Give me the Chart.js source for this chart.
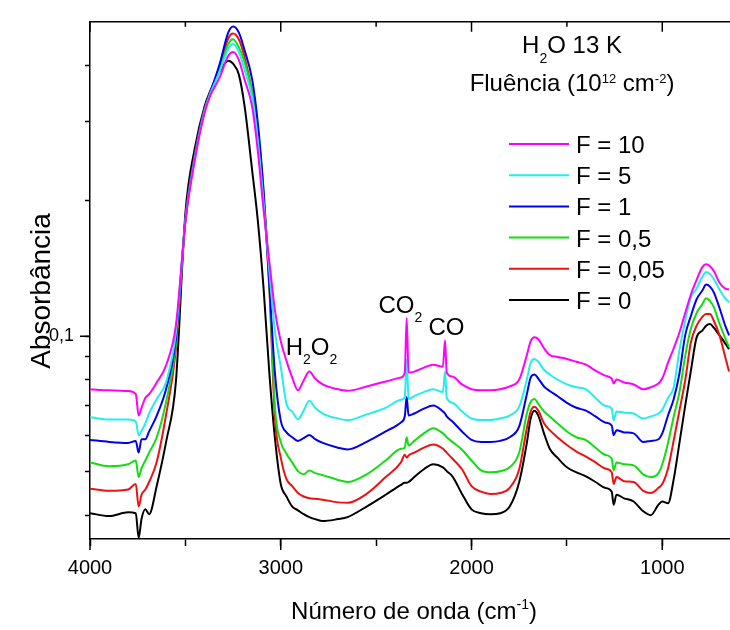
<!DOCTYPE html>
<html>
<head>
<meta charset="utf-8">
<script src="https://cdn.jsdelivr.net/npm/chart.js@4.4.0/dist/chart.umd.min.js"></script>
<style>
  html, body { margin: 0; padding: 0; background: #fff; }
  #wrap { width: 730px; height: 630px; }
</style>
</head>
<body>
<div id="wrap"><canvas id="spectra" width="730" height="630"></canvas></div>
<script>
// wave numbers (cm-1), shared by every spectrum
const waveNumbers = [
  4000, 3900, 3800, 3760, 3745, 3730, 3710, 3690, 3650, 3600,
  3550, 3500, 3450, 3400, 3370, 3320, 3275, 3250, 3220, 3190,
  3150, 3120, 3090, 3060, 3030, 3000, 2970, 2940, 2910, 2880,
  2850, 2820, 2780, 2700, 2650, 2550, 2450, 2370, 2350, 2340,
  2330, 2300, 2250, 2200, 2150, 2139, 2130, 2100, 2050, 2000,
  1950, 1900, 1850, 1800, 1750, 1710, 1690, 1670, 1650, 1620,
  1590, 1550, 1500, 1450, 1400, 1350, 1300, 1265, 1255, 1240,
  1200, 1150, 1100, 1060, 1020, 1000, 970, 940, 910, 880,
  850, 820, 790, 770, 750, 730, 700, 670, 650
];

// absorbance, one array per fluence
const absF10 = [
  0.0762, 0.0758, 0.0755, 0.0743, 0.0666, 0.0693, 0.0729, 0.0743, 0.0789, 0.0864,
  0.1055, 0.1793, 0.2471, 0.3127, 0.3421, 0.3762, 0.4200, 0.4285, 0.4116, 0.3724,
  0.3238, 0.2572, 0.1904, 0.1467, 0.1137, 0.0974, 0.0881, 0.0809, 0.0758, 0.0797,
  0.0834, 0.0805, 0.0781, 0.0762, 0.0756, 0.0773, 0.0793, 0.0809, 0.0830, 0.1098,
  0.0830, 0.0834, 0.0851, 0.0864, 0.0855, 0.0979, 0.0830, 0.0813, 0.0781, 0.0762,
  0.0758, 0.0758, 0.0762, 0.0773, 0.0801, 0.0908, 0.0974, 0.0994, 0.0984, 0.0940,
  0.0908, 0.0899, 0.0890, 0.0877, 0.0864, 0.0838, 0.0817, 0.0805, 0.0785, 0.0801,
  0.0789, 0.0781, 0.0762, 0.0770, 0.0785, 0.0805, 0.0873, 0.0940, 0.1019, 0.1126,
  0.1238, 0.1334, 0.1424, 0.1445, 0.1431, 0.1396, 0.1315, 0.1276, 0.1270
];
const absF5 = [
  0.0660, 0.0653, 0.0653, 0.0646, 0.0602, 0.0615, 0.0640, 0.0673, 0.0725, 0.0793,
  0.1014, 0.1802, 0.2496, 0.3158, 0.3456, 0.3877, 0.4350, 0.4460, 0.4285, 0.3916,
  0.3387, 0.2717, 0.1982, 0.1396, 0.1024, 0.0855, 0.0707, 0.0680, 0.0653, 0.0683,
  0.0718, 0.0693, 0.0673, 0.0656, 0.0650, 0.0670, 0.0693, 0.0722, 0.0733, 0.0886,
  0.0725, 0.0736, 0.0751, 0.0762, 0.0751, 0.0835, 0.0729, 0.0711, 0.0680, 0.0656,
  0.0651, 0.0651, 0.0656, 0.0666, 0.0697, 0.0801, 0.0873, 0.0890, 0.0877, 0.0842,
  0.0822, 0.0801, 0.0781, 0.0770, 0.0762, 0.0729, 0.0700, 0.0690, 0.0649, 0.0680,
  0.0676, 0.0673, 0.0656, 0.0663, 0.0673, 0.0686, 0.0729, 0.0770, 0.0931, 0.1082,
  0.1220, 0.1276, 0.1355, 0.1389, 0.1375, 0.1341, 0.1270, 0.1214, 0.1190
];
const absF1 = [
  0.0588, 0.0582, 0.0579, 0.0585, 0.0551, 0.0590, 0.0590, 0.0614, 0.0666, 0.0766,
  0.0984, 0.1811, 0.2521, 0.3174, 0.3473, 0.4034, 0.4736, 0.4882, 0.4736, 0.4328,
  0.3724, 0.2973, 0.2105, 0.1308, 0.0822, 0.0649, 0.0611, 0.0596, 0.0585, 0.0593,
  0.0603, 0.0590, 0.0579, 0.0565, 0.0560, 0.0582, 0.0614, 0.0643, 0.0663, 0.0732,
  0.0666, 0.0673, 0.0690, 0.0701, 0.0680, 0.0673, 0.0663, 0.0646, 0.0614, 0.0588,
  0.0582, 0.0582, 0.0585, 0.0596, 0.0630, 0.0743, 0.0809, 0.0822, 0.0805, 0.0773,
  0.0755, 0.0736, 0.0711, 0.0693, 0.0683, 0.0663, 0.0643, 0.0633, 0.0602, 0.0618,
  0.0611, 0.0608, 0.0582, 0.0585, 0.0590, 0.0608, 0.0666, 0.0725, 0.0826, 0.1004,
  0.1109, 0.1208, 0.1263, 0.1302, 0.1289, 0.1251, 0.1155, 0.1055, 0.1004
];
const absF05 = [
  0.0524, 0.0514, 0.0519, 0.0529, 0.0486, 0.0508, 0.0529, 0.0551, 0.0596, 0.0718,
  0.0955, 0.1811, 0.2521, 0.3174, 0.3473, 0.3916, 0.4460, 0.4573, 0.4393, 0.4075,
  0.3490, 0.2871, 0.2095, 0.1328, 0.0690, 0.0582, 0.0548, 0.0524, 0.0501, 0.0493,
  0.0503, 0.0496, 0.0491, 0.0479, 0.0474, 0.0493, 0.0529, 0.0562, 0.0565, 0.0596,
  0.0571, 0.0585, 0.0608, 0.0624, 0.0608, 0.0602, 0.0596, 0.0582, 0.0559, 0.0529,
  0.0503, 0.0498, 0.0501, 0.0511, 0.0551, 0.0673, 0.0714, 0.0725, 0.0707, 0.0680,
  0.0663, 0.0640, 0.0614, 0.0596, 0.0587, 0.0565, 0.0545, 0.0534, 0.0503, 0.0524,
  0.0519, 0.0516, 0.0493, 0.0486, 0.0496, 0.0519, 0.0579, 0.0663, 0.0751, 0.0903,
  0.1040, 0.1126, 0.1178, 0.1214, 0.1196, 0.1160, 0.1066, 0.0989, 0.0946
];
const absF005 = [
  0.0458, 0.0453, 0.0456, 0.0469, 0.0418, 0.0444, 0.0456, 0.0474, 0.0526, 0.0673,
  0.0931, 0.1811, 0.2534, 0.3190, 0.3473, 0.3955, 0.4596, 0.4712, 0.4573, 0.4179,
  0.3473, 0.2787, 0.2032, 0.1276, 0.0653, 0.0537, 0.0481, 0.0464, 0.0448, 0.0440,
  0.0436, 0.0435, 0.0433, 0.0427, 0.0426, 0.0446, 0.0486, 0.0524, 0.0545, 0.0537,
  0.0543, 0.0551, 0.0565, 0.0574, 0.0562, 0.0556, 0.0551, 0.0534, 0.0506, 0.0464,
  0.0451, 0.0446, 0.0448, 0.0460, 0.0506, 0.0624, 0.0680, 0.0697, 0.0683, 0.0640,
  0.0618, 0.0596, 0.0573, 0.0554, 0.0540, 0.0524, 0.0508, 0.0498, 0.0469, 0.0486,
  0.0476, 0.0474, 0.0453, 0.0448, 0.0460, 0.0469, 0.0508, 0.0587, 0.0683, 0.0797,
  0.0969, 0.1055, 0.1104, 0.1120, 0.1120, 0.1082, 0.1004, 0.0899, 0.0834
];
const absF0 = [
  0.0404, 0.0398, 0.0406, 0.0404, 0.0356, 0.0392, 0.0412, 0.0402, 0.0465, 0.0585,
  0.0789, 0.1876, 0.2624, 0.3238, 0.3508, 0.3877, 0.4095, 0.4034, 0.3820, 0.3254,
  0.2338, 0.1802, 0.1276, 0.0830, 0.0590, 0.0469, 0.0440, 0.0418, 0.0410, 0.0402,
  0.0396, 0.0392, 0.0388, 0.0392, 0.0396, 0.0418, 0.0444, 0.0467, 0.0472, 0.0472,
  0.0474, 0.0486, 0.0506, 0.0519, 0.0511, 0.0506, 0.0501, 0.0488, 0.0446, 0.0412,
  0.0404, 0.0402, 0.0404, 0.0418, 0.0474, 0.0579, 0.0656, 0.0683, 0.0666, 0.0608,
  0.0562, 0.0537, 0.0511, 0.0498, 0.0488, 0.0474, 0.0460, 0.0451, 0.0422, 0.0444,
  0.0436, 0.0429, 0.0408, 0.0400, 0.0422, 0.0429, 0.0425, 0.0481, 0.0579, 0.0700,
  0.0838, 0.0994, 0.1029, 0.1055, 0.1064, 0.1045, 0.1004, 0.0964, 0.0936
];

const seriesLabels = ['F = 10', 'F = 5', 'F = 1', 'F = 0,5', 'F = 0,05', 'F = 0'];
const seriesValues = [absF10, absF5, absF1, absF05, absF005, absF0];
const seriesColors = ['#ff00ff', '#22eeee', '#0000ee', '#11dd11', '#ee1111', '#000000'];

// axis ticks
const xMajorTicks = [4000, 3000, 2000, 1000];
const xMinorTicks = [3500, 2500, 1500];
const yMinorTicks = [0.04, 0.05, 0.06, 0.07, 0.08, 0.09, 0.2, 0.3, 0.4];
const yLabelTicks = [0.1];
const yLabelText = ['0,1'];

const FONT = "'Liberation Sans', Arial, sans-serif";

// writes text made of pieces, pieces can be normal, sub (1) or sup (-1)
function drawRich(ctx, parts, x, y, size, align, small, shift) {
    let width = 0;
    parts.forEach(([t, s]) => {
        ctx.font = (s ? small : size) + 'px ' + FONT;
        width += ctx.measureText(t).width;
    });
    let cx = align === 'center' ? x - width / 2 : x;
    parts.forEach(([t, s]) => {
        ctx.font = (s ? small : size) + 'px ' + FONT;
        ctx.fillText(t, cx, y + (s === 1 ? shift.sub : s === -1 ? shift.sup : 0));
        cx += ctx.measureText(t).width;
    });
}

const decor = {
    id: 'decor',
    afterDraw(chart) {
        const ctx = chart.ctx;
        const area = chart.chartArea;
        const xs = chart.scales.x;
        const ys = chart.scales.y;
        ctx.save();
        ctx.strokeStyle = '#000';
        ctx.fillStyle = '#000';
        ctx.lineWidth = 1.5;

        // top frame line and inward ticks
        ctx.beginPath();
        ctx.moveTo(area.left, area.top);
        ctx.lineTo(area.right, area.top);
        xMajorTicks.concat(xMinorTicks).forEach(v => {
            const px = xs.getPixelForValue(v);
            const len = xMajorTicks.includes(v) ? 10 : 5;
            ctx.moveTo(px, area.top);
            ctx.lineTo(px, area.top + len);
        });
        // major bottom ticks are a bit longer
        xMajorTicks.forEach(v => {
            const px = xs.getPixelForValue(v);
            ctx.moveTo(px, area.bottom);
            ctx.lineTo(px, area.bottom + 11);
        });
        // longer tick for the labelled value
        yLabelTicks.forEach(v => {
            const py = ys.getPixelForValue(v);
            ctx.moveTo(area.left - 10, py);
            ctx.lineTo(area.left, py);
        });
        ctx.stroke();

        ctx.textAlign = 'left';
        ctx.textBaseline = 'alphabetic';
        const sub = { sub: 9, sup: -8 };

        // band labels
        drawRich(ctx, [['H', 0], ['2', 1], ['O', 0], ['2', 1]],
            xs.getPixelForValue(2974), ys.getPixelForValue(0.0908), 24, 'left', 14, sub);
        drawRich(ctx, [['CO', 0], ['2', 1]],
            xs.getPixelForValue(2488), ys.getPixelForValue(0.1127), 24, 'left', 14, sub);
        drawRich(ctx, [['CO', 0]],
            xs.getPixelForValue(2226), ys.getPixelForValue(0.1004), 24, 'left', 14, sub);

        // heading
        drawRich(ctx, [['H', 0], ['2', 1], ['O 13 K', 0]], 572, 53, 24, 'center', 14, { sub: 10, sup: 0 });
        drawRich(ctx, [['Fluência (10', 0], ['12', -1], [' cm', 0], ['-2', -1], [')', 0]],
            572, 91, 24, 'center', 13, { sub: 0, sup: -8 });

        // legend
        chart.data.datasets.forEach((ds, i) => {
            const ly = 144 + i * 31.2;
            ctx.strokeStyle = ds.borderColor;
            ctx.lineWidth = 2;
            ctx.beginPath();
            ctx.moveTo(509, ly);
            ctx.lineTo(569, ly);
            ctx.stroke();
            ctx.font = '24px ' + FONT;
            ctx.fillText(ds.label, 576, ly + 9);
        });

        // axis titles
        drawRich(ctx, [['Número de onda (cm', 0], ['-1', -1], [')', 0]],
            414, 619, 24, 'center', 14, { sub: 0, sup: -10 });
        ctx.translate(50, 291);
        ctx.rotate(-Math.PI / 2);
        ctx.textAlign = 'center';
        ctx.font = '28px ' + FONT;
        ctx.fillText('Absorbância', 0, 0);
        ctx.restore();
    }
};

const ctx = document.getElementById('spectra').getContext('2d');
new Chart(ctx, {
    type: 'line',
    data: {
        datasets: seriesValues.map((vals, i) => ({
            label: seriesLabels[i],
            data: waveNumbers.map((w, j) => ({ x: w, y: vals[j] })),
            borderColor: seriesColors[i],
            borderWidth: 2,
            pointRadius: 0,
            fill: false,
            cubicInterpolationMode: 'monotone'
        }))
    },
    options: {
        responsive: false,
        animation: false,
        events: [],
        layout: { padding: { top: 10, right: 0, bottom: 0, left: 0 } },
        plugins: { legend: { display: false }, tooltip: { enabled: false } },
        scales: {
            x: {
                type: 'linear',
                reverse: true,
                min: 645,
                max: 4000,
                afterBuildTicks: s => { s.ticks = xMajorTicks.concat(xMinorTicks).sort((a, b) => b - a).map(v => ({ value: v })); },
                afterFit: s => { s.height = 91; },
                border: { display: true, color: '#000', width: 1.5 },
                grid: { drawOnChartArea: false, drawTicks: true, tickLength: 7, tickColor: '#000', tickWidth: 1.5 },
                ticks: {
                    color: '#000',
                    font: { family: FONT, size: 20 },
                    padding: 10,
                    maxRotation: 0,
                    autoSkip: false,
                    callback: v => xMajorTicks.includes(v) ? String(v) : ''
                }
            },
            y: {
                type: 'logarithmic',
                min: 0.0354,
                max: 0.5,
                afterBuildTicks: s => { s.ticks = yMinorTicks.concat(yLabelTicks).sort((a, b) => a - b).map(v => ({ value: v })); },
                afterFit: s => { s.width = 90; },
                border: { display: true, color: '#000', width: 1.5 },
                grid: { drawOnChartArea: false, drawTicks: true, tickLength: 5, tickColor: '#000', tickWidth: 1.5 },
                ticks: {
                    color: '#000',
                    font: { family: FONT, size: 18 },
                    padding: 11,
                    autoSkip: false,
                    callback: v => {
                        const k = yLabelTicks.indexOf(v);
                        return k >= 0 ? yLabelText[k] : '';
                    }
                }
            }
        }
    },
    plugins: [decor]
});
</script>
</body>
</html>
